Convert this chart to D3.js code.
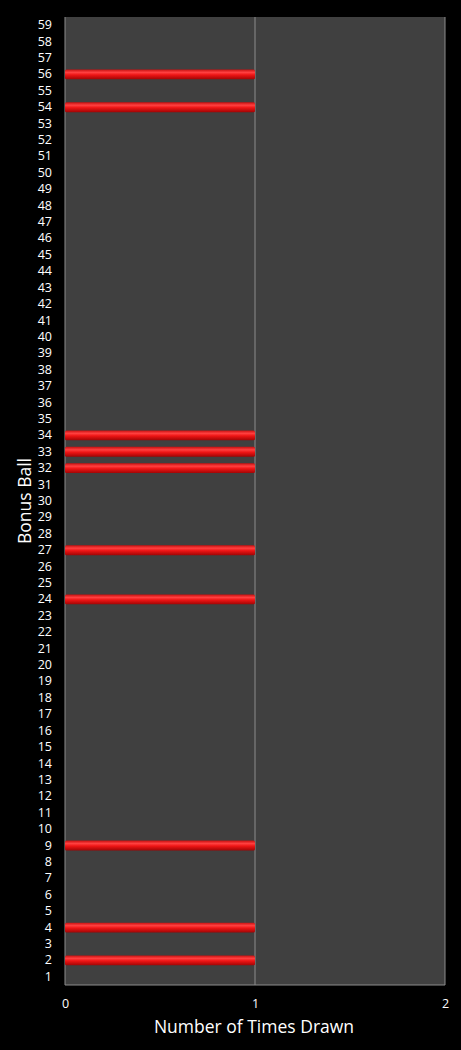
<!DOCTYPE html>
<html>
<head>
<meta charset="utf-8">
<script src="https://cdn.jsdelivr.net/npm/d3@7"></script>
<style>
  html, body { margin: 0; padding: 0; background: #000; }
  svg { display: block; }
</style>
</head>
<body>
<div id="chart"></div>
<script>
// bonus ball numbers 1..59, and how many times each was drawn
const balls = d3.range(1, 60);
const drawnBalls = [2, 4, 9, 24, 27, 32, 33, 34, 54, 56];
const timesDrawn = balls.map(b => drawnBalls.includes(b) ? 1 : 0);
const xTicks = [0, 1, 2];

const width = 461, height = 1050;
const margin = { top: 17, right: 16, bottom: 65, left: 65 };
const plotW = width - margin.left - margin.right;
const plotH = height - margin.top - margin.bottom;
const font = '"Open Sans", "DejaVu Sans", sans-serif';

const svg = d3.select('#chart')
    .append('svg')
    .attr('width', width)
    .attr('height', height)
    .style('background', '#000');

const defs = svg.append('defs');
const grad = defs.append('linearGradient')
    .attr('id', 'barGrad')
    .attr('x1', '0%').attr('y1', '0%')
    .attr('x2', '0%').attr('y2', '100%');
grad.append('stop').attr('offset', '0%').attr('stop-color', '#c81010');
grad.append('stop').attr('offset', '30%').attr('stop-color', '#ff4040');
grad.append('stop').attr('offset', '55%').attr('stop-color', '#ee1515');
grad.append('stop').attr('offset', '100%').attr('stop-color', '#a00505');

const g = svg.append('g')
    .attr('transform', `translate(${margin.left},${margin.top})`);

const x = d3.scaleLinear().domain([0, 2]).range([0, plotW]);
const y = d3.scaleBand()
    .domain(balls.slice().reverse())
    .range([0, plotH])
    .paddingInner(0.4)
    .paddingOuter(0.2);

// plot background
g.append('rect')
    .attr('width', plotW)
    .attr('height', plotH)
    .attr('fill', '#404040');

// vertical gridlines
g.selectAll('.grid')
    .data(xTicks)
    .enter()
    .append('line')
    .attr('class', 'grid')
    .attr('x1', d => x(d)).attr('x2', d => x(d))
    .attr('y1', 0).attr('y2', plotH)
    .attr('stroke', '#8c8c8c')
    .attr('stroke-width', 1);

// bottom axis line
g.append('line')
    .attr('x1', 0).attr('x2', plotW)
    .attr('y1', plotH).attr('y2', plotH)
    .attr('stroke', '#8c8c8c');

// bars
g.selectAll('.bar')
    .data(balls.map((b, i) => ({ ball: b, value: timesDrawn[i] })).filter(d => d.value > 0))
    .enter()
    .append('rect')
    .attr('class', 'bar')
    .attr('x', x(0))
    .attr('y', d => y(d.ball))
    .attr('width', d => x(d.value) - x(0))
    .attr('height', y.bandwidth())
    .attr('rx', 1.5)
    .attr('fill', 'url(#barGrad)');

// y axis labels
const yAxis = d3.axisLeft(y).tickSize(0).tickPadding(13);
const yG = g.append('g').call(yAxis);
yG.select('.domain').remove();
yG.selectAll('text')
    .attr('fill', '#fff')
    .attr('font-family', font)
    .attr('font-size', '12.5px');

// x axis labels
const xAxis = d3.axisBottom(x).tickValues(xTicks).tickFormat(d3.format('d')).tickSize(0).tickPadding(14);
const xG = g.append('g')
    .attr('transform', `translate(0,${plotH})`)
    .call(xAxis);
xG.select('.domain').remove();
xG.selectAll('text')
    .attr('fill', '#fff')
    .attr('font-family', font)
    .attr('font-size', '12.5px');

// axis titles
svg.append('text')
    .attr('x', margin.left + plotW / 2 - 1)
    .attr('y', 1033)
    .attr('text-anchor', 'middle')
    .attr('fill', '#fff')
    .attr('font-family', font)
    .attr('font-size', '17.5px')
    .text('Number of Times Drawn');

svg.append('text')
    .attr('transform', `translate(31,${margin.top + plotH / 2}) rotate(-90)`)
    .attr('text-anchor', 'middle')
    .attr('fill', '#fff')
    .attr('font-family', font)
    .attr('font-size', '17.5px')
    .text('Bonus Ball');
</script>
</body>
</html>
